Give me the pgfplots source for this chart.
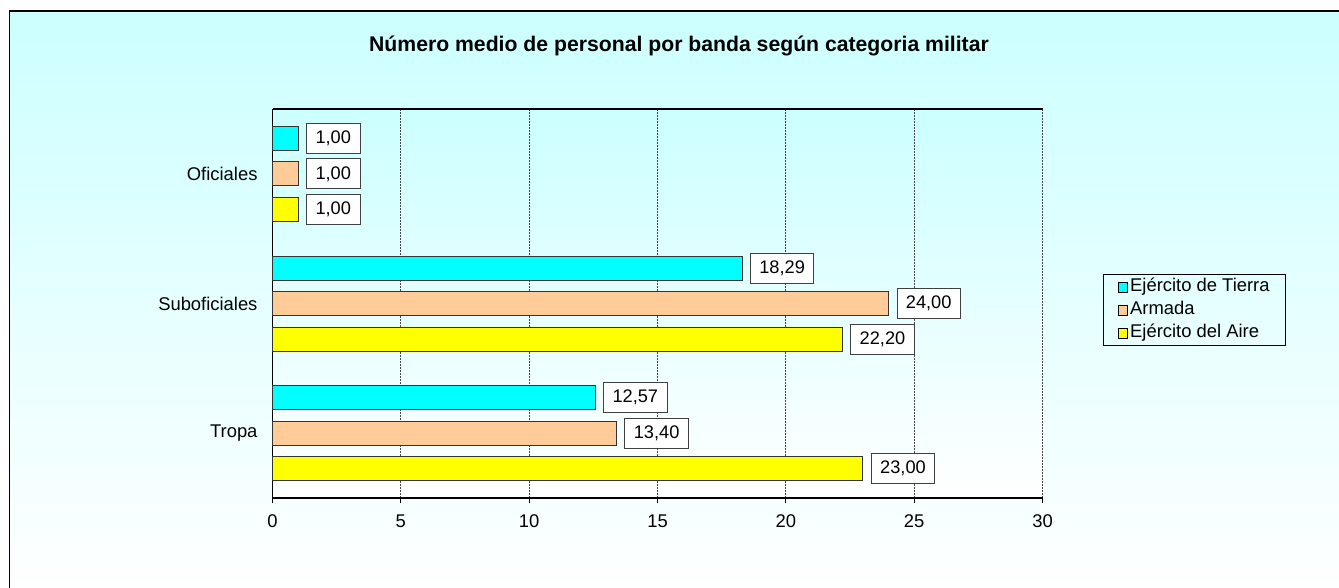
\documentclass[border=0pt]{standalone}
\usepackage{fontspec}
\setmainfont{Liberation Sans}
\usepackage{pgfplots}
\pgfplotsset{compat=1.18}
\definecolor{bgcyan}{HTML}{CCFFFF}
\definecolor{tierra}{HTML}{00FFFF}
\definecolor{armada}{HTML}{FFCC99}
\definecolor{aire}{HTML}{FFFF00}
\pgfplotsset{
  sqleg/.style={legend image code/.code={\draw[##1,draw=black,line width=0.8pt] (0pt,-4.7pt) rectangle (9.4pt,4.7pt);}},
}
\begin{document}
\begin{tikzpicture}
\useasboundingbox (0pt,0pt) rectangle (1339pt,588pt);
\shade[top color=bgcyan, bottom color=white] (9.5pt,-10pt) rectangle (1345pt,577pt);
\draw[black, line width=1.5pt] (9.5pt,-10pt) -- (9.5pt,577pt) -- (1345pt,577pt);
\node[font=\fontsize{21.2}{25}\selectfont\bfseries, anchor=base] at (679pt,536pt) {Número medio de personal por banda según categoria militar};
\begin{axis}[
  at={(272.5pt,90pt)}, anchor=south west, scale only axis,
  width=770pt, height=389pt,
  xbar, clip=false,
  axis background/.style={shade, top color=bgcyan, bottom color=white},
  xmin=0, xmax=30, xtick={0,5,...,30},
  ymin=-0.5, ymax=2.5, ytick={0,1,2},
  yticklabels={Tropa,Suboficiales,Oficiales},
  axis x line*=bottom, axis y line*=left,
  axis line style={-, black, line width=1.3pt},
  x tick style={black, line width=1pt},
  tick align=outside, major tick length=5.5pt,
  y tick style={draw=none},
  xmajorgrids, major grid style={dash pattern=on 2pt off 1pt, gray!55!black, line width=0.9pt},
  tick label style={font=\fontsize{18.4}{21}\selectfont},
  /pgf/number format/assume math mode=true,
  /pgf/number format/.cd, use comma, fixed, fixed zerofill, precision=2, /pgfplots/.cd,
  xticklabel style={/pgf/number format/precision=0, /pgf/number format/fixed zerofill=false, yshift=-8pt},
  yticklabel style={xshift=-6pt},
  point meta=x,
  nodes near coords,
  every node near coord/.append style={anchor=west, draw=black!75, line width=0.8pt, fill=white,
     inner xsep=9pt, inner ysep=0pt, minimum height=30pt, xshift=8pt,
     font=\fontsize{18.2}{21}\selectfont},
  legend style={at={(1.0792,0.482)}, anchor=west, draw=black, line width=1pt, fill=none,
     font=\fontsize{18.4}{21}\selectfont, inner xsep=14pt, inner ysep=1pt, row sep=0pt,
     nodes={text height=13pt, text depth=4pt, inner ysep=3pt}},
  legend cell align=left,
]
\addplot[fill=tierra, draw=black!80, line width=0.8pt, bar width=24pt, bar shift=0pt, sqleg]
  coordinates {(1,2.2731) (18.29,1.2731) (12.57,0.2731)};
\addplot[fill=armada, draw=black!80, line width=0.8pt, bar width=24pt, bar shift=0pt, sqleg]
  coordinates {(1,2) (24,1) (13.4,0)};
\addplot[fill=aire, draw=black!80, line width=0.8pt, bar width=24pt, bar shift=0pt, sqleg]
  coordinates {(1,1.7269) (22.2,0.7269) (23,-0.2731)};
\legend{Ejército de Tierra, Armada, Ejército del Aire}
\draw[black, line width=1.3pt] (rel axis cs:0,1) -- (rel axis cs:1,1);
\end{axis}
\end{tikzpicture}
\end{document}
